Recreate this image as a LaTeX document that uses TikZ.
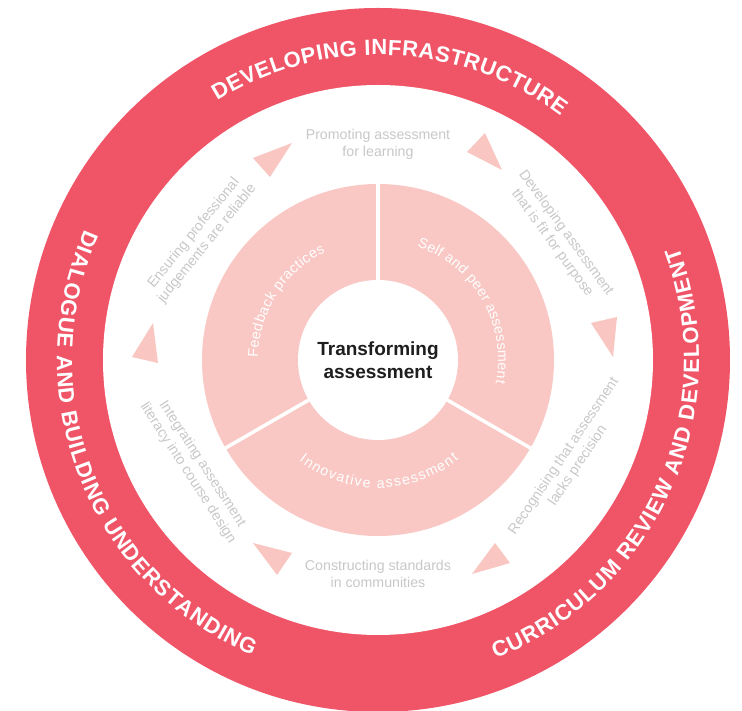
\documentclass[tikz,border=0pt]{standalone}
\usepackage{fontspec}
\setmainfont{Liberation Sans}
\usetikzlibrary{decorations.text}
\definecolor{ringred}{RGB}{240,84,103}
\definecolor{segpink}{RGB}{249,200,196}
\definecolor{tripink}{RGB}{249,198,194}
\definecolor{labelgray}{RGB}{200,200,200}
\definecolor{centerdark}{RGB}{30,30,30}
\begin{document}
\begin{tikzpicture}[x=1pt,y=1pt,
  graylabel/.style={text=labelgray, font=\fontsize{14.2}{17}\selectfont, align=center, inner sep=0pt},
  tri/.style={fill=tripink, draw=none},
  divider/.style={draw=white, line width=3.5pt},
  centrelabel/.style={font=\fontsize{19}{23}\selectfont\bfseries, text=centerdark, align=center, inner sep=0pt}
]
\useasboundingbox (-378,-351) rectangle (364,360);
\fill[white] (-378,-351) rectangle (364,360);
% rings
\fill[ringred] (0,0) circle[radius=352];
\fill[white] (0,0) circle[radius=275];
\fill[segpink] (0,0) circle[radius=176];
\fill[white] (0,0) circle[radius=80];
\foreach \a in {90,210,330} \draw[divider] (\a:78) -- (\a:178);
% centre
\node[centrelabel] (centre) at (0,0) {Transforming\\assessment};
% triangles
\fill[tri] (-125,202) -- (-86,217) -- (-108,183) -- cycle;
\fill[tri] (89,208) -- (107,227) -- (124,190) -- cycle;
\fill[tri] (213,37) -- (239,43) -- (235,3) -- cycle;
\fill[tri] (117,-183) -- (132,-203) -- (94,-214) -- cycle;
\fill[tri] (-125,-183) -- (-86,-193) -- (-101,-215) -- cycle;
\fill[tri] (-225,37) -- (-246,3) -- (-220,-3) -- cycle;
% grey labels
\node[graylabel] (promo) at (0,216) {Promoting assessment\\for learning};
\node[graylabel, rotate=-54] (develop) at (181,122) {Developing assessment\\that is fit for purpose};
\node[graylabel, rotate=56] (recog) at (193,-101) {Recognising that assessment\\lacks precision};
\node[graylabel] (construct) at (0,-214) {Constructing standards\\in communities};
\node[graylabel, rotate=-57] (integr) at (-183,-108.5) {Integrating assessment\\literacy into course design};
\node[graylabel, rotate=51] (ensure) at (-177.5,121.5) {Ensuring professional\\judgements are reliable};
% segment labels
\path[decorate, decoration={text along path, text align={fit to path},
  text={|\fontsize{14.3}{16}\selectfont\color{white}|Feedback practices}}]
  (179:120) arc[start angle=179, end angle=116, radius=120];
\path[decorate, decoration={text along path, text align={fit to path},
  text={|\fontsize{14.3}{16}\selectfont\color{white}|Self and peer assessment}}]
  (71:120) arc[start angle=71, end angle=-11, radius=120];
\path[decorate, decoration={text along path, text align={fit to path},
  text={|\fontsize{14.3}{16}\selectfont\color{white}|Innovative assessment}}]
  (232:128) arc[start angle=232, end angle=309, radius=128];
% ring labels
\path[decorate, decoration={text along path, text align={fit to path},
  text={|\fontsize{22}{24}\selectfont\bfseries\color{white}|DEVELOPING INFRASTRUCTURE}}]
  (121.8:305) arc[start angle=121.8, end angle=53.2, radius=305];
\path[decorate, decoration={text along path, text align={fit to path},
  text={|\fontsize{22}{24}\selectfont\bfseries\color{white}|DIALOGUE AND BUILDING UNDERSTANDING}}]
  (156:321) arc[start angle=156, end angle=247, radius=321];
\path[decorate, decoration={text along path, text align={fit to path},
  text={|\fontsize{22}{24}\selectfont\bfseries\color{white}|CURRICULUM REVIEW AND DEVELOPMENT}}]
  (291.5:321) arc[start angle=291.5, end angle=380.5, radius=321];
\end{tikzpicture}
\end{document}
